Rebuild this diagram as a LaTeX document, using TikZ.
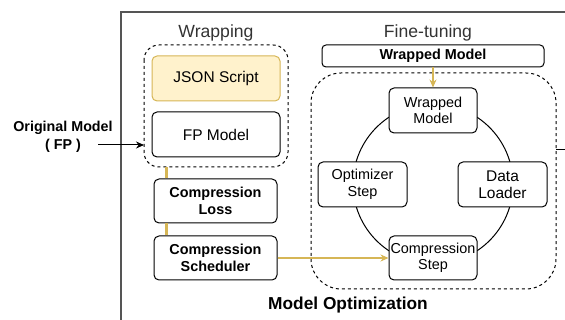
\documentclass[tikz,border=0pt]{standalone}
\usepackage{fontspec}
\setmainfont{Liberation Sans}
\usetikzlibrary{arrows.meta,calc}
\definecolor{ylw}{HTML}{D6B656}
\definecolor{ylwfill}{HTML}{FFF2CC}
\definecolor{frame}{HTML}{555555}
\definecolor{ttl}{HTML}{333333}
\begin{document}
\begin{tikzpicture}[x=1pt,y=-1pt,
  box/.style={draw=black,line width=1pt,rounded corners=5pt,fill=white,inner sep=0pt,align=center,font=\fontsize{15.5}{17}\selectfont},
  sbox/.style={box,font=\fontsize{14.4}{16.5}\selectfont},
  bbox/.style={box,font=\bfseries\fontsize{14.4}{16.5}\selectfont},
  dbox/.style={draw=black,line width=1pt,dashed,dash pattern=on 3pt off 3pt},
  yline/.style={draw=ylw,line width=3.5pt},
  yarrow/.style={draw=ylw,line width=1.2pt,-{Stealth[length=8pt,width=7pt,fill=ylw]}},
  ttlstyle/.style={text=ttl,font=\fontsize{17.6}{20}\selectfont,inner sep=0pt}
]
\useasboundingbox (0,0) rectangle (565,320);
\clip (0,0) rectangle (565,320);
% outer frame
\draw[frame,line width=1.4pt] (121,330) -- (121,12) -- (580,12);
% titles
\node[ttlstyle] (wraptitle) at (216,33) {Wrapping};
\node[ttlstyle] (fttitle) at (428,33) {Fine-tuning};
\node[inner sep=0pt,font=\bfseries\fontsize{17.3}{20}\selectfont] (motitle) at (348,305) {Model Optimization};
% wrapping group
\draw[dbox,rounded corners=15pt] (144,45) rectangle (288,167);
\coordinate (wrapS) at (216,167);
\coordinate (wrapW) at (144,145);
\node[box,fill=ylwfill,draw=ylw,minimum width=128pt,minimum height=45pt] (json) at (216,78.5) {JSON Script};
\node[box,minimum width=128pt,minimum height=45pt] (fp) at (216,134.5) {FP Model};
% original model
\node[inner sep=0pt,align=center,font=\bfseries\fontsize{14.3}{18}\selectfont] (orig) at (63,137) {Original Model\\( FP )};
\coordinate (origstart) at (98,145);
\draw[line width=1pt,-{Stealth[length=8pt,width=7pt]}] (origstart) -- (wrapW);
% compression nodes
\node[bbox,minimum width=123pt,minimum height=44pt] (loss) at (215.5,201) {Compression\\Loss};
\node[bbox,minimum width=123pt,minimum height=44pt] (sched) at (215.5,258) {Compression\\Scheduler};
\draw[yline] ([xshift=13pt]loss.north west) -- ([xshift=13pt]loss.north west |- wrapS);
\draw[yline] ([xshift=13pt]loss.south west) -- ([xshift=13pt]sched.north west);
% fine-tuning group
\node[bbox,rounded corners=4pt,minimum width=222pt,minimum height=22pt] (wmtop) at (433,56) {Wrapped Model};
\draw[dbox,rounded corners=30pt] (311,73) rectangle (556,289);
\coordinate (ftE) at (556,150);
\coordinate (ftout) at (570,150);
\draw[line width=1pt] (ftE) -- (ftout);
\coordinate (cc) at (433,184);
\draw[line width=1pt] (cc) circle (80);
\node[sbox,minimum width=88pt,minimum height=45pt] (wmc) at (433,110.5) {Wrapped\\Model};
\node[sbox,minimum width=89pt,minimum height=45pt] (opt) at (362.5,184.5) {Optimizer\\Step};
\node[box,minimum width=89pt,minimum height=45pt] (data) at (502.5,184.5) {Data\\Loader};
\node[sbox,minimum width=88pt,minimum height=44pt] (cstep) at (433,258) {Compression\\Step};
\draw[yarrow] (wmtop) -- (wmc);
\draw[yarrow] (sched.east) -- (cstep.west);
\end{tikzpicture}
\end{document}
